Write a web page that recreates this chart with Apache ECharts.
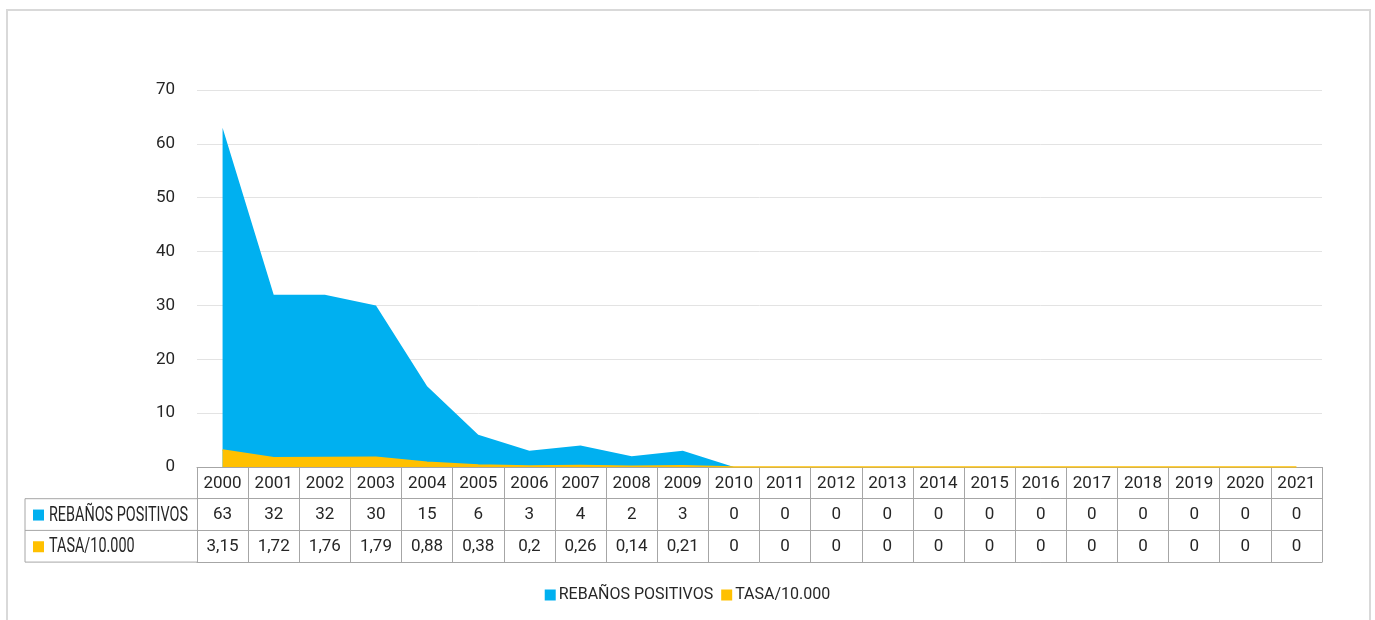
<!DOCTYPE html>
<html>
<head>
<meta charset="utf-8">
<script src="https://cdn.jsdelivr.net/npm/echarts@6/dist/echarts.min.js"></script>
<style>
html,body{margin:0;padding:0;background:#fff;}
#c{width:1375px;height:620px;}
</style>
</head>
<body>
<div id="c"></div>
<script>
var years = ['2000','2001','2002','2003','2004','2005','2006','2007','2008','2009','2010','2011','2012','2013','2014','2015','2016','2017','2018','2019','2020','2021'];
var rebanos = [63,32,32,30,15,6,3,4,2,3,0,0,0,0,0,0,0,0,0,0,0,0];
var tasa = [3.15,1.72,1.76,1.79,0.88,0.38,0.2,0.26,0.14,0.21,0,0,0,0,0,0,0,0,0,0,0,0];
var yTicks = [0,10,20,30,40,50,60,70];
var names = ['REBAÑOS POSITIVOS','TASA/10.000'];
var colors = ['#00B0F0','#FFC000'];

var FONT = "Roboto, 'Noto Sans', sans-serif";
var TXT = '#262626';
var BORDER = '#a6a6a6';
function fmtNum(v){ return String(v).replace('.', ','); }

var chart = echarts.init(document.getElementById('c'));
var gridLeft = 197, gridRight = 1322, gridBottomY = 467;
var rowH = 31.7;
var FS = 17;

var option = {
  backgroundColor: '#fff',
  animation: false,
  textStyle: {fontFamily: FONT},
  grid: {left: gridLeft, right: 1375 - gridRight, top: 90, bottom: 620 - gridBottomY, containLabel: false},
  legend: {
    bottom: 12, left: 'center',
    data: names,
    itemWidth: 11, itemHeight: 11, itemGap: 8,
    icon: 'rect',
    textStyle: {fontFamily: FONT, fontSize: 16, color: TXT, padding: [0,0,0,-2]}
  },
  xAxis: [
    {type: 'category', data: years, boundaryGap: true, position: 'bottom',
     axisLine: {show: true, lineStyle: {color: BORDER, width: 1}},
     axisTick: {show: true, interval: 0, length: rowH * 3, lineStyle: {color: BORDER}},
     axisLabel: {interval: 0, margin: 8, fontFamily: FONT, fontSize: FS, color: TXT}},
    {type: 'category', data: years, boundaryGap: true, position: 'bottom', offset: rowH,
     axisLine: {show: true, lineStyle: {color: BORDER, width: 1}},
     axisTick: {show: false},
     axisLabel: {interval: 0, margin: 8, fontFamily: FONT, fontSize: FS, color: TXT,
       formatter: function(v, i){ return fmtNum(rebanos[i]); }}},
    {type: 'category', data: years, boundaryGap: true, position: 'bottom', offset: rowH * 2,
     axisLine: {show: true, lineStyle: {color: BORDER, width: 1}},
     axisTick: {show: false},
     axisLabel: {interval: 0, margin: 8, fontFamily: FONT, fontSize: FS, color: TXT,
       formatter: function(v, i){ return fmtNum(tasa[i]); }}},
    {type: 'category', data: years, boundaryGap: true, position: 'bottom', offset: rowH * 3,
     axisLine: {show: true, lineStyle: {color: BORDER, width: 1}},
     axisTick: {show: false},
     axisLabel: {show: false}}
  ],
  yAxis: {
    type: 'value', min: yTicks[0], max: yTicks[yTicks.length-1], interval: 10,
    axisLine: {show: false}, axisTick: {show: false},
    axisLabel: {margin: 22, fontFamily: FONT, fontSize: FS, color: TXT},
    splitLine: {lineStyle: {color: '#e3e3e3', width: 1}}
  },
  series: [
    {name: names[0], type: 'line', data: rebanos, xAxisIndex: 0,
     showSymbol: false, symbol: 'none',
     lineStyle: {width: 0, color: colors[0]},
     itemStyle: {color: colors[0]},
     areaStyle: {color: colors[0], opacity: 1}},
    {name: names[1], type: 'line', data: tasa, xAxisIndex: 0,
     showSymbol: false, symbol: 'none',
     lineStyle: {width: 1.5, color: colors[1]},
     itemStyle: {color: colors[1]},
     areaStyle: {color: colors[1], opacity: 1}}
  ],
  graphic: [
    {type: 'rect', shape: {x: 7, y: 10, width: 1363, height: 640}, style: {fill: 'none', stroke: '#d9d9d9', lineWidth: 2}, silent: true},
    {type: 'line', shape: {x1: 25, y1: gridBottomY + rowH, x2: gridLeft, y2: gridBottomY + rowH}, style: {stroke: BORDER, lineWidth: 1}},
    {type: 'line', shape: {x1: 25, y1: gridBottomY + rowH*2, x2: gridLeft, y2: gridBottomY + rowH*2}, style: {stroke: BORDER, lineWidth: 1}},
    {type: 'line', shape: {x1: 25, y1: gridBottomY + rowH*3, x2: gridLeft, y2: gridBottomY + rowH*3}, style: {stroke: BORDER, lineWidth: 1}},
    {type: 'line', shape: {x1: 25, y1: gridBottomY + rowH, x2: 25, y2: gridBottomY + rowH*3}, style: {stroke: BORDER, lineWidth: 1}},
    {type: 'rect', shape: {x: 33, y: gridBottomY + rowH*1.5 - 5, width: 11, height: 11}, style: {fill: colors[0]}},
    {type: 'text', x: 49, y: gridBottomY + rowH*1.5 + 1, scaleX: 0.72, style: {text: names[0], font: '20px ' + FONT, fill: TXT, verticalAlign: 'middle'}},
    {type: 'rect', shape: {x: 33, y: gridBottomY + rowH*2.5 - 5, width: 11, height: 11}, style: {fill: colors[1]}},
    {type: 'text', x: 49, y: gridBottomY + rowH*2.5 + 1, scaleX: 0.72, style: {text: names[1], font: '20px ' + FONT, fill: TXT, verticalAlign: 'middle'}}
  ]
};
chart.setOption(option);
</script>
</body>
</html>
